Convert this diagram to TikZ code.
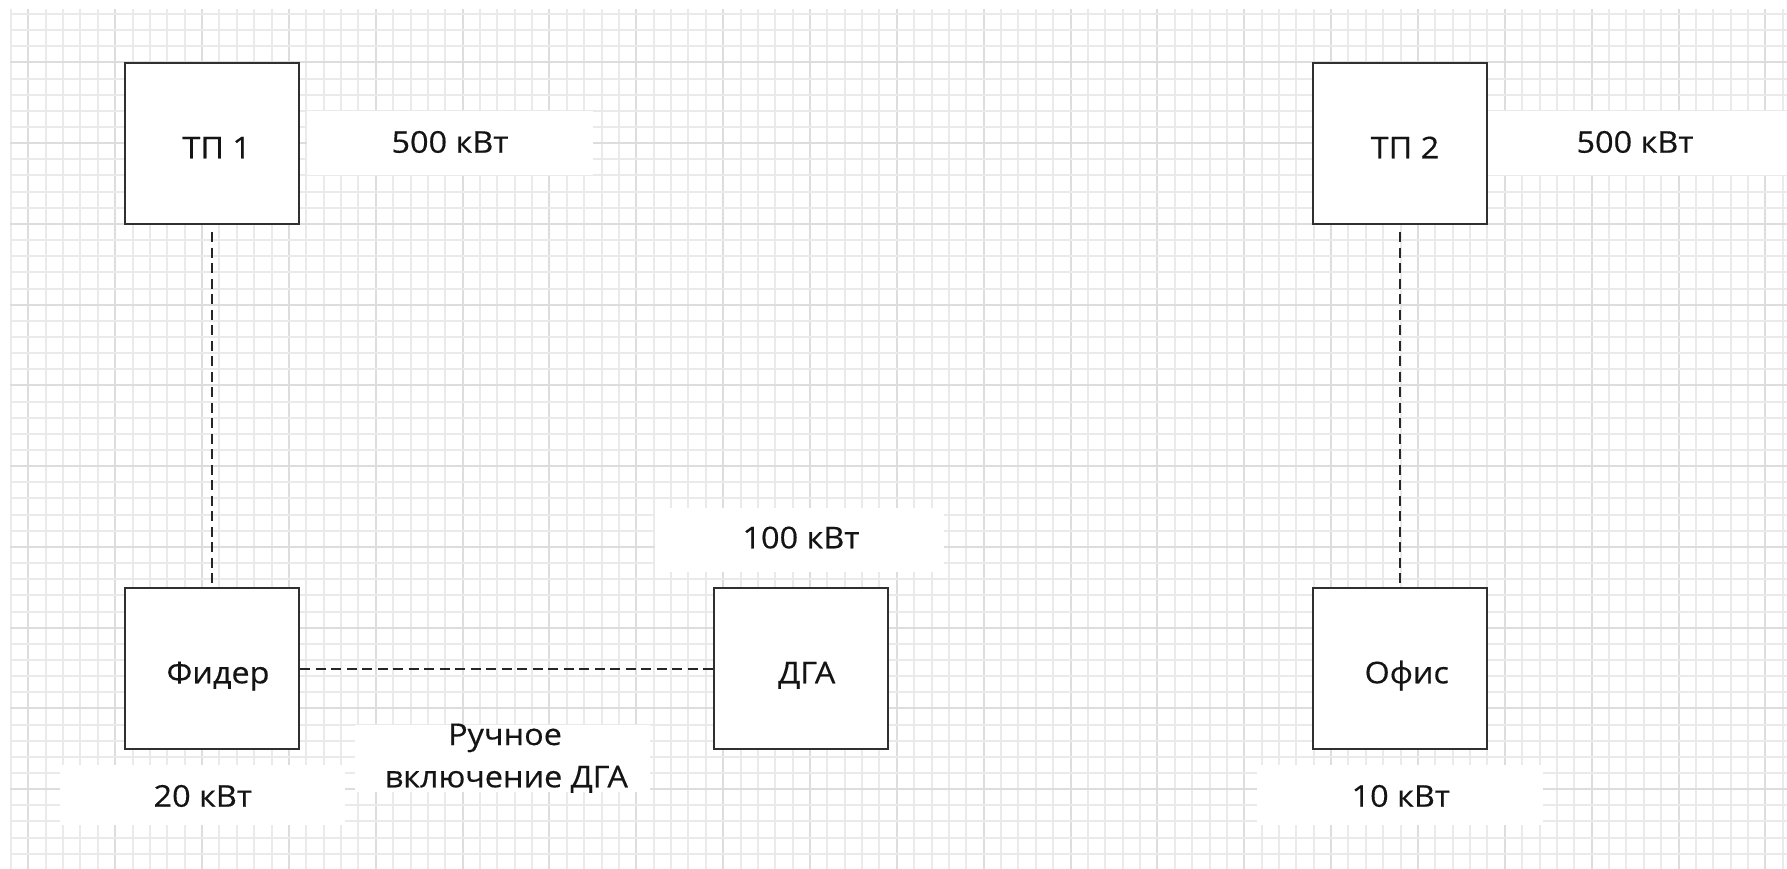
\documentclass[tikz,border=0pt]{standalone}
\usepackage{fontspec}
\setmainfont{Open Sans}[FakeStretch=1.08,FakeBold=0.4]
\usetikzlibrary{calc}
\definecolor{gridminor}{HTML}{EAEAEA}
\definecolor{gridmajor}{HTML}{DDDDDD}
\definecolor{ink}{HTML}{141414}
\definecolor{edge}{HTML}{303030}
\definecolor{dashcol}{HTML}{262626}
\tikzset{
  gridline/.style={draw=gridminor, line width=2pt},
  gridmajorline/.style={draw=gridmajor, line width=2pt},
  box/.style={draw=edge, line width=1.8pt, fill=white, rectangle, inner sep=0pt},
  bg/.style={fill=white, draw=none, rectangle, inner sep=0pt},
  txt/.style={anchor=base, inner sep=0pt, text=ink, font=\fontsize{30}{36}\selectfont},
  link/.style={draw=dashcol, line width=1.9pt, dash pattern=on 10pt off 5.5pt},
}
\begin{document}
\begin{tikzpicture}[x=1pt,y=-1pt]
\useasboundingbox (0,0) rectangle (1787,869);
\fill[white] (0,0) rectangle (1787,869);
% grid
\foreach \k in {0,...,102} {\pgfmathsetmacro\xx{round(11+17.37*\k)} \draw[gridline] (\xx,9) -- (\xx,869);}
\foreach \k in {1,6,...,101} {\pgfmathsetmacro\xx{round(11+17.37*\k)} \draw[gridmajorline] (\xx,9) -- (\xx,869);}
\foreach \k in {0,...,53} {\pgfmathsetmacro\yy{round(14+16.15*\k)} \draw[gridline] (10,\yy) -- (1787,\yy);}
\foreach \k in {3,8,...,53} {\pgfmathsetmacro\yy{round(14+16.15*\k)} \draw[gridmajorline] (10,\yy) -- (1787,\yy);}
% label backgrounds
\node[bg, minimum width=286pt, minimum height=64pt] (bg-p1) at (449.7,143) {};
\node[bg, minimum width=299pt, minimum height=64pt] (bg-p2) at (1637.5,143) {};
\node[bg, minimum width=289pt, minimum height=64pt] (bg-p3) at (799.5,540) {};
\node[bg, minimum width=285pt, minimum height=60pt] (bg-p4) at (202.5,795) {};
\node[bg, minimum width=286pt, minimum height=60pt] (bg-p5) at (1399.8,795) {};
\node[bg, minimum width=295pt, minimum height=67pt] (bg-r) at (502.5,758.5) {};
% boxes
\node[box, minimum width=174pt, minimum height=161pt] (tp1) at (212.3,143.7) {};
\node[box, minimum width=174pt, minimum height=161pt] (tp2) at (1399.7,143.7) {};
\node[box, minimum width=174pt, minimum height=161pt] (fider) at (212.3,668.7) {};
\node[box, minimum width=174pt, minimum height=161pt] (dga) at (801.2,668.7) {};
\node[box, minimum width=174pt, minimum height=161pt] (ofis) at (1399.7,668.7) {};
% connectors
\draw[link, shorten <=7pt] (tp1.south) -- (fider.north);
\draw[link, shorten <=7pt] (tp2.south) -- (ofis.north);
\draw[link] (fider.east) -- (dga.west);
% texts
\node[txt] (t-tp1) at (216.7,158.3) {ТП 1};
\node[txt] (t-tp2) at (1405,158.3) {ТП 2};
\node[txt] (t-p1) at (450,152.7) {500 кВт};
\node[txt] (t-p2) at (1635,152.7) {500 кВт};
\node[txt] (t-fider) at (218,683.3) {Фидер};
\node[txt] (t-dga) at (806.7,683.3) {ДГА};
\node[txt] (t-ofis) at (1406.7,683.3) {Офис};
\node[txt] (t-p3) at (801,548.3) {100 кВт};
\node[txt] (t-p4) at (202.8,806.7) {20 кВт};
\node[txt] (t-p5) at (1400.8,806.7) {10 кВт};
\node[txt] (t-r1) at (505,745) {Ручное};
\node[txt] (t-r2) at (506.3,787.3) {включение ДГА};
\end{tikzpicture}
\end{document}
